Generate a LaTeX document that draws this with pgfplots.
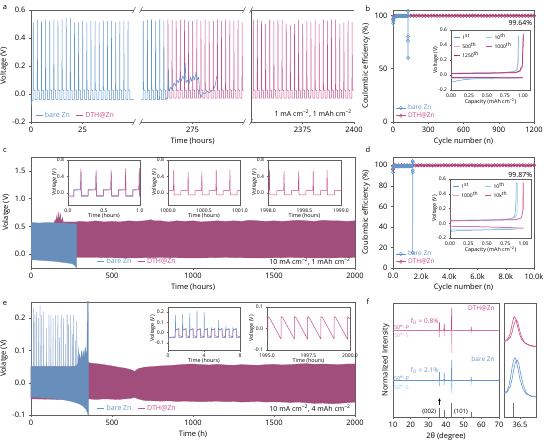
\documentclass[border=0pt]{standalone}
\usepackage{pgfplots}
\pgfplotsset{compat=1.18}
\usepackage{fontspec}
\setmainfont{Open Sans}

\definecolor{axgray}{RGB}{95,95,95}
\definecolor{zblue}{RGB}{98,150,205}
\definecolor{zbluelt}{RGB}{150,200,235}
\definecolor{zpink}{RGB}{200,80,140}
\definecolor{zpinklt}{RGB}{235,165,200}
\definecolor{zpinkdk}{RGB}{180,40,105}
\definecolor{cepink}{RGB}{172,62,118}
\definecolor{bandblue}{RGB}{104,142,188}
\definecolor{bandpink}{RGB}{162,78,124}
\definecolor{refgray}{RGB}{110,110,110}

\newcommand{\fs}[1]{\fontsize{#1}{#1}\selectfont}

\pgfplotsset{
  base/.style={
    scale only axis, anchor=north west,
    font=\fs{7.5},
    tick label style={font=\fs{7.5}},
    label style={font=\fs{7.5}},
    tick align=outside, major tick length=2pt, minor tick length=1.2pt,
    tick style={line width=0.4pt, color=axgray},
    axis line style={line width=0.5pt, color=axgray},
    xtick pos=lower, ytick pos=left,
    /pgf/number format/assume math mode=true,
    /pgf/number format/1000 sep={},
    xlabel style={yshift=2pt},
    ylabel style={yshift=-2pt},
    legend image code/.code={\draw[#1] (0pt,0pt) -- (7pt,0pt);},
  },
  inset/.style={base,
    tick label style={font=\fs{5}},
    label style={font=\fs{5.4}},
    xlabel style={yshift=4pt},
    ylabel style={yshift=-5pt},
    major tick length=1.5pt,
    axis background/.style={fill=white},
    xticklabel style={yshift=1pt}, yticklabel style={xshift=1pt},
  },
  dec1x/.style={xticklabel style={/pgf/number format/.cd,fixed,fixed zerofill,precision=1}},
  dec1y/.style={yticklabel style={/pgf/number format/.cd,fixed,fixed zerofill,precision=1}},
  dec2x/.style={xticklabel style={/pgf/number format/.cd,fixed,fixed zerofill,precision=2}},
  trace/.style={line width=0.5pt, line join=round},
  celegend/.style={legend style={draw=none, fill=none, at={(0.01,0.0)}, anchor=south west,
      font=\fs{6.5}, row sep=-2.5pt, inner sep=1pt},
    legend cell align=left,
    legend image code/.code={\draw[mark repeat=2,mark phase=2,##1] plot coordinates {(0pt,0pt)(5pt,0pt)(10pt,0pt)};}},
  capleg/.style={legend style={draw=none, fill=none, at={(0.02,0.99)}, anchor=north west,
      font=\fs{5}, legend columns=2, row sep=-2.5pt, inner sep=1pt,
      /tikz/every even column/.append style={column sep=5pt}},
    legend cell align=left,
    legend image code/.code={\draw[##1] (0pt,0pt) -- (6pt,0pt);}},
  lineleg/.style={legend style={draw=none, fill=none, at={(#1,0.0)}, anchor=south west,
      font=\fs{7}, legend columns=-1, inner sep=1pt,
      /tikz/every even column/.append style={column sep=4pt}}},
}

\begin{document}
\begin{tikzpicture}
\useasboundingbox (0,0) rectangle (546pt,439pt);

% ---------------- panel a : three time windows ----------------
\begin{axis}[base, at={(31pt,429pt)}, width=103pt, height=112pt,
  xmin=0, xmax=50, ymin=-0.2, ymax=0.6,
  axis x line*=box, axis y line*=left,
  xtick={0,25}, ytick={-0.2,0,0.2,0.4,0.6}, dec1y,
  ylabel={Voltage (V)}, lineleg=0.03]
\addlegendimage{zblue, line width=0.6pt}
\addlegendentry{\textcolor{zblue}{bare Zn}}
\addlegendimage{zpink, line width=0.6pt}
\addlegendentry{\textcolor{zpink}{DTH@Zn}}
\addplot[zblue, trace, forget plot] coordinates {
(0,0.00)(0.15,-0.08)(0.5,-0.05)
(1,-0.04)(1.1,0.51)(1.2,0.03)(2,0.025)(2.02,-0.04)
(3,-0.04)(3.1,0.53)(3.2,0.03)(4,0.025)(4.02,-0.04)
(5,-0.04)(5.1,0.52)(5.2,0.03)(6,0.025)(6.02,-0.04)
(7,-0.04)(7.1,0.53)(7.2,0.03)(8,0.025)(8.02,-0.04)
(9,-0.04)(9.1,0.52)(9.2,0.03)(10,0.025)(10.02,-0.04)
(11,-0.04)(11.1,0.53)(11.2,0.03)(12,0.025)(12.02,-0.04)
(13,-0.04)(13.1,0.52)(13.2,0.03)(14,0.025)(14.02,-0.04)
(15,-0.04)(15.1,0.53)(15.2,0.03)(16,0.025)(16.02,-0.04)
(17,-0.04)(17.1,0.54)(17.2,0.03)(18,0.025)(18.02,-0.04)
(19,-0.04)(19.1,0.54)(19.2,0.03)(20,0.025)(20.02,-0.04)
(21,-0.04)(21.1,0.51)(21.2,0.03)(22,0.025)(22.02,-0.04)
(23,-0.04)(23.1,0.51)(23.2,0.03)(24,0.025)(24.02,-0.04)
(25,-0.04)(25.1,0.52)(25.2,0.03)(26,0.025)(26.02,-0.04)
(27,-0.04)(27.1,0.51)(27.2,0.03)(28,0.025)(28.02,-0.04)
(29,-0.04)(29.1,0.52)(29.2,0.03)(30,0.025)(30.02,-0.04)
(31,-0.04)(31.1,0.52)(31.2,0.03)(32,0.025)(32.02,-0.04)
(33,-0.04)(33.1,0.51)(33.2,0.03)(34,0.025)(34.02,-0.04)
(35,-0.04)(35.1,0.52)(35.2,0.03)(36,0.025)(36.02,-0.04)
(37,-0.04)(37.1,0.52)(37.2,0.03)(38,0.025)(38.02,-0.04)
(39,-0.04)(39.1,0.52)(39.2,0.03)(40,0.025)(40.02,-0.04)
(41,-0.04)(41.1,0.51)(41.2,0.03)(42,0.025)(42.02,-0.04)
(43,-0.04)(43.1,0.52)(43.2,0.03)(44,0.025)(44.02,-0.04)
(45,-0.04)(45.1,0.52)(45.2,0.03)(46,0.025)(46.02,-0.04)
(47,-0.04)(47.1,0.52)(47.2,0.03)(48,0.025)(48.02,-0.04)
(50,-0.04)};
\end{axis}

\begin{axis}[base, at={(141pt,429pt)}, width=103pt, height=112pt,
  xmin=250, xmax=300, ymin=-0.2, ymax=0.6,
  axis x line*=box, axis y line=none, ytick=\empty,
  xtick={275}, xlabel={Time (hours)}]
\addplot[zpink, trace] coordinates {
(262,-0.03)
(263,-0.03)(263.1,0.53)(263.2,0.03)(264,0.025)(264.02,-0.03)
(265,-0.03)(265.1,0.53)(265.2,0.03)(266,0.025)(266.02,-0.03)
(267,-0.03)(267.1,0.52)(267.2,0.03)(268,0.025)(268.02,-0.03)
(269,-0.03)(269.1,0.53)(269.2,0.03)(270,0.025)(270.02,-0.03)
(271,-0.03)(271.1,0.53)(271.2,0.03)(272,0.025)(272.02,-0.03)
(273,-0.03)(273.1,0.52)(273.2,0.03)(274,0.025)(274.02,-0.03)
(275,-0.03)(275.1,0.52)(275.2,0.03)(276,0.025)(276.02,-0.03)
(277,-0.03)(277.1,0.53)(277.2,0.03)(278,0.025)(278.02,-0.03)
(279,-0.03)(279.1,0.52)(279.2,0.03)(280,0.025)(280.02,-0.03)
(281,-0.03)(281.1,0.53)(281.2,0.03)(282,0.025)(282.02,-0.03)
(283,-0.03)(283.1,0.52)(283.2,0.03)(284,0.025)(284.02,-0.03)
(285,-0.03)(285.1,0.52)(285.2,0.03)(286,0.025)(286.02,-0.03)
(287,-0.03)(287.1,0.53)(287.2,0.03)(288,0.025)(288.02,-0.03)
(289,-0.03)(289.1,0.52)(289.2,0.03)(290,0.025)(290.02,-0.03)
(291,-0.03)(291.1,0.53)(291.2,0.03)(292,0.025)(292.02,-0.03)
(293,-0.03)(293.1,0.52)(293.2,0.03)(294,0.025)(294.02,-0.03)
(295,-0.03)(295.1,0.52)(295.2,0.03)(296,0.025)(296.02,-0.03)
(297,-0.03)(297.1,0.53)(297.2,0.03)(298,0.025)(298.02,-0.03)
(299,-0.03)(299.1,0.51)(299.2,0.03)(300,0.025)};
\addplot[zblue, line width=0.6pt, line join=round] coordinates {
(250,-0.04)
(251,-0.04)(251.1,0.52)(251.2,0.03)(252,0.025)(252.02,-0.04)
(253,-0.04)(253.1,0.53)(253.2,0.03)(254,0.025)(254.02,-0.04)
(255,-0.04)(255.1,0.53)(255.2,0.03)(256,0.025)(256.02,-0.04)
(257,-0.04)(257.1,0.52)(257.2,0.03)(258,0.025)(258.02,-0.04)
(259,-0.04)(259.1,0.53)(259.2,0.03)(260,0.025)(260.02,-0.04)
(261,-0.04)(261.1,0.52)(261.2,0.03)(262,0.025)(262.02,-0.04)
(263,-0.03)(263.3,0.18)(263.6,0.02)(264.5,0.05)(265.2,0.03)(266,0.08)(266.8,0.06)
(267.5,0.1)(268.2,0.08)(269,0.12)(269.5,0.09)(270.3,0.13)(271,0.1)(271.5,0.22)
(271.8,0.08)(272.5,0.1)(273.3,0.07)(274,0.12)(274.6,0.09)(275.3,0.13)(276,0.1)
(276.8,0.16)(277.3,0.1)(278,0.12)(278.5,0.0)(279.3,-0.02)(280,0.01)(281,0.0)
(282,0.02)(283,0.01)(284,0.02)(285,0.03)(286,0.06)(286.8,0.13)};
\end{axis}

\begin{axis}[base, at={(251pt,429pt)}, width=103pt, height=112pt,
  xmin=2350, xmax=2400, ymin=-0.2, ymax=0.6,
  axis x line*=box, axis y line*=right, ytick=\empty,
  xtick={2375,2400}]
\addplot[zpink, trace] coordinates {
(2350,-0.03)
(2351,-0.03)(2351.1,0.53)(2351.2,0.03)(2352,0.025)(2352.02,-0.03)
(2353,-0.03)(2353.1,0.53)(2353.2,0.03)(2354,0.025)(2354.02,-0.03)
(2355,-0.03)(2355.1,0.52)(2355.2,0.03)(2356,0.025)(2356.02,-0.03)
(2357,-0.03)(2357.1,0.50)(2357.2,0.03)(2358,0.025)(2358.02,-0.03)
(2359,-0.03)(2359.1,0.53)(2359.2,0.03)(2360,0.025)(2360.02,-0.03)
(2361,-0.03)(2361.1,0.52)(2361.2,0.03)(2362,0.025)(2362.02,-0.03)
(2363,-0.03)(2363.1,0.53)(2363.2,0.03)(2364,0.025)(2364.02,-0.03)
(2365,-0.03)(2365.1,0.53)(2365.2,0.03)(2366,0.025)(2366.02,-0.03)
(2367,-0.03)(2367.1,0.50)(2367.2,0.03)(2368,0.025)(2368.02,-0.03)
(2369,-0.03)(2369.1,0.49)(2369.2,0.03)(2370,0.025)(2370.02,-0.03)
(2371,-0.03)(2371.1,0.50)(2371.2,0.03)(2372,0.025)(2372.02,-0.03)
(2373,-0.03)(2373.1,0.53)(2373.2,0.03)(2374,0.025)(2374.02,-0.03)
(2375,-0.03)(2375.1,0.50)(2375.2,0.03)(2376,0.025)(2376.02,-0.03)
(2377,-0.03)(2377.1,0.52)(2377.2,0.03)(2378,0.025)(2378.02,-0.03)
(2379,-0.03)(2379.1,0.51)(2379.2,0.03)(2380,0.025)(2380.02,-0.03)
(2381,-0.03)(2381.1,0.53)(2381.2,0.03)(2382,0.025)(2382.02,-0.03)
(2383,-0.03)(2383.1,0.50)(2383.2,0.03)(2384,0.025)(2384.02,-0.03)
(2385,-0.03)(2385.1,0.53)(2385.2,0.03)(2386,0.025)(2386.02,-0.03)
(2387,-0.03)(2387.1,0.52)(2387.2,0.03)(2388,0.025)(2388.02,-0.03)
(2389,-0.03)(2389.1,0.53)(2389.2,0.03)(2390,0.025)(2390.02,-0.03)
(2391,-0.03)(2391.1,0.53)(2391.2,0.03)(2392,0.025)(2392.02,-0.03)
(2393,-0.03)(2393.1,0.50)(2393.2,0.03)(2394,0.025)(2394.02,-0.03)
(2395,-0.03)(2395.1,0.51)(2395.2,0.03)(2396,0.025)(2396.02,-0.03)
(2397,-0.03)(2397.1,0.52)(2397.2,0.03)(2398,0.025)(2398.02,-0.03)
(2399,-0.03)(2399.1,0.51)(2399.2,0.03)(2400,0.025)};
\node[anchor=south east, font=\fs{7}, inner sep=1pt] at (rel axis cs:0.99,0.03)
  {1 mA cm\textsuperscript{−2}, 1 mAh cm\textsuperscript{−2}};
\end{axis}

% axis-break marks
\foreach \bx in {134,141,244,251}{
  \draw[axgray, line width=0.5pt] (\bx pt-1.5pt,426pt) -- (\bx pt+1.5pt,432pt);
  \draw[axgray, line width=0.5pt] (\bx pt-1.5pt,314pt) -- (\bx pt+1.5pt,320pt);
}

% ---------------- panel b ----------------
\begin{axis}[base, at={(393pt,429pt)}, width=141pt, height=112pt,
  xmin=0, xmax=1200, ymin=0, ymax=105,
  xtick={0,300,...,1200}, ytick={0,50,100},
  xlabel={Cycle number (n)}, ylabel={Coulombic efficiency (\%)}, celegend]
\addlegendimage{zblue, line width=0.5pt, mark=o, mark size=1.6pt}
\addlegendentry{\textcolor{zblue}{bare Zn}}
\addlegendimage{zpink, line width=0.5pt, mark=o, mark size=1.6pt}
\addlegendentry{\textcolor{zpink}{DTH@Zn}}
\addplot[cepink, line width=1.2pt, mark=o, mark size=1.7pt,
  mark options={line width=0.6pt}, forget plot] coordinates {
(1,96.5)(5,99.0)(10,99.4)(25,99.6)(50,99.7)(75,99.6)(100,99.7)(125,99.6)(150,99.6)
(175,99.7)(200,99.6)(225,99.7)(250,99.6)(275,99.6)(300,99.7)(325,99.6)(350,99.7)
(375,99.6)(400,99.6)(425,99.7)(450,99.6)(475,99.7)(500,99.6)(525,99.6)(550,99.7)
(575,99.6)(600,99.7)(625,99.6)(650,99.6)(675,99.7)(700,99.6)(725,99.7)(750,99.6)
(775,99.6)(800,99.7)(825,99.6)(850,99.7)(875,99.6)(900,99.6)(925,99.7)(950,99.6)
(975,99.7)(1000,99.6)(1025,99.6)(1050,99.7)(1075,99.6)(1100,99.7)(1125,99.6)
(1150,99.6)(1175,99.7)(1200,99.6)};
\addplot[zblue, line width=0.6pt, mark=o, mark size=1.6pt, forget plot] coordinates {
(1,92.5)(3,94.8)(5,96.5)(8,97.8)(12,98.6)(16,99.0)(20,99.2)(25,99.0)(30,99.3)
(35,99.1)(40,99.4)(45,99.2)(50,99.4)(55,99.3)(60,99.5)(65,99.2)(70,99.4)(75,99.5)
(80,99.3)(85,99.5)(90,99.4)(95,99.5)(100,99.3)(105,99.5)(110,99.4)(115,99.5)
(120,99.4)(125,99.5)(128,104)(128,60)(128,80)(128,76)(128,100)};
\node[anchor=east, font=\fs{7}, inner sep=1pt] at (axis cs:1195,93) {99.64\%};
\end{axis}

\begin{axis}[inset, at={(451pt,409pt)}, width=79pt, height=60pt,
  xmin=0, xmax=1.1, ymin=-0.2, ymax=0.6,
  xtick={0,0.25,0.5,0.75,1}, ytick={-0.2,0,0.2,0.4,0.6}, dec2x, dec1y,
  xlabel={Capacity (mAh cm\textsuperscript{−2})}, ylabel={Voltage (V)}, capleg]
\addplot[zblue, trace] coordinates {(0,0.02)(0.2,0.025)(0.4,0.028)(0.6,0.03)(0.75,0.035)(0.85,0.042)(0.9,0.055)(0.92,0.08)(0.93,0.15)(0.935,0.3)(0.94,0.52)};
\addlegendentry{1\textsuperscript{st}}
\addplot[zbluelt, trace] coordinates {(0,0.025)(0.3,0.03)(0.6,0.033)(0.8,0.038)(0.88,0.05)(0.92,0.07)(0.94,0.2)(0.945,0.5)};
\addlegendentry{10\textsuperscript{th}}
\addplot[zpinklt, trace] coordinates {(0,0.015)(0.5,0.02)(0.9,0.03)(0.97,0.05)(0.98,0.08)(0.99,0.09)(0.995,0.2)(1.0,0.5)};
\addlegendentry{500\textsuperscript{th}}
\addplot[zpink, trace] coordinates {(0,0.018)(0.5,0.022)(0.9,0.03)(0.96,0.05)(0.975,0.09)(0.99,0.1)(1.0,0.25)(1.005,0.52)};
\addlegendentry{1000\textsuperscript{th}}
\addplot[zpinkdk, trace] coordinates {(0,0.02)(0.5,0.025)(0.9,0.035)(0.96,0.06)(0.975,0.1)(0.99,0.11)(1.0,0.3)(1.01,0.55)};
\addlegendentry{1250\textsuperscript{th}}
\addplot[zblue, trace, forget plot] coordinates {(0,-0.1)(0.03,-0.09)(0.1,-0.075)(0.2,-0.06)(0.35,-0.05)(0.5,-0.045)(0.7,-0.042)(0.9,-0.04)(1.0,-0.04)};
\addplot[zbluelt, trace, forget plot] coordinates {(0,-0.05)(0.3,-0.045)(0.6,-0.043)(0.95,-0.042)};
\addplot[zpinklt, trace, forget plot] coordinates {(0,-0.03)(0.5,-0.03)(1.0,-0.032)};
\addplot[zpink, trace, forget plot] coordinates {(0,-0.032)(0.5,-0.033)(1.0,-0.035)};
\addplot[zpinkdk, trace, forget plot] coordinates {(0,-0.035)(0.5,-0.036)(1.0,-0.038)};
\end{axis}

% ---------------- panel c ----------------
\begin{axis}[base, at={(31pt,282pt)}, width=324pt, height=111pt,
  xmin=0, xmax=2000, ymin=-0.25, ymax=1.75,
  xtick={0,500,...,2000}, ytick={0,0.5,1,1.5}, dec1y,
  xlabel={Time (hours)}, ylabel={Volatge (V)}, lineleg=0.2]
\addlegendimage{zblue, line width=0.6pt}
\addlegendentry{\textcolor{zblue}{bare Zn}}
\addlegendimage{zpink, line width=0.6pt}
\addlegendentry{\textcolor{zpink}{DTH@Zn}}
\addplot[fill=bandpink, draw=bandpink, line width=0.3pt, forget plot] coordinates {
(0,0.55)(140,0.56)(150,0.62)(152,0.56)(160,0.7)(163,0.57)(172,0.76)(175,0.58)
(182,0.72)(185,0.58)(195,0.66)(198,0.58)(250,0.58)(280,0.58)(300,0.59)(350,0.58)
(400,0.6)(450,0.58)(500,0.59)(550,0.58)(600,0.6)(650,0.59)(700,0.6)(740,0.62)
(760,0.6)(800,0.6)(850,0.58)(900,0.6)(950,0.59)(1000,0.6)(1050,0.58)(1100,0.59)
(1150,0.6)(1200,0.59)(1250,0.6)(1300,0.59)(1350,0.61)(1400,0.6)(1450,0.59)
(1500,0.6)(1550,0.59)(1600,0.6)(1650,0.61)(1700,0.6)(1750,0.59)(1800,0.61)
(1850,0.6)(1900,0.6)(1950,0.59)(2000,0.6)
(2000,-0.06)(1800,-0.07)(1600,-0.06)(1400,-0.07)(1200,-0.06)(1000,-0.07)
(800,-0.06)(600,-0.07)(400,-0.06)(280,-0.06)(0,-0.06)} -- cycle;
\addplot[fill=bandblue, draw=bandblue, line width=0.3pt, forget plot] coordinates {
(0,0.57)(50,0.56)(100,0.57)(150,0.56)(200,0.56)(250,0.55)(280,0.55)
(280,-0.25)(275,-0.22)(265,-0.19)(250,-0.17)(200,-0.15)(150,-0.13)(100,-0.12)
(50,-0.11)(0,-0.10)} -- cycle;
\node[anchor=south east, font=\fs{7}, inner sep=1pt] at (rel axis cs:0.99,0.01)
  {10 mA cm\textsuperscript{−2}, 1 mAh cm\textsuperscript{−2}};
\end{axis}

\begin{axis}[inset, at={(68pt,279pt)}, width=72pt, height=45pt,
  xmin=0, xmax=1, ymin=-0.3, ymax=0.8,
  xtick={0,0.5,1}, ytick={0,0.4,0.8}, dec1x, dec1y,
  xlabel={Time (hours)}, ylabel={Voltage (V)}]
\addplot[zblue, trace] coordinates {
(0,-0.1)(0.08,-0.1)(0.08,0.08)(0.175,0.09)(0.18,0.5)(0.185,-0.09)(0.28,-0.09)
(0.28,0.08)(0.385,0.09)(0.39,0.5)(0.395,-0.09)(0.49,-0.09)(0.49,0.08)(0.595,0.09)
(0.60,0.5)(0.605,-0.09)(0.70,-0.09)(0.70,0.08)(0.795,0.09)(0.80,0.5)(0.805,-0.09)
(0.90,-0.09)(0.90,0.08)(0.985,0.09)(0.99,0.5)(0.995,-0.09)(1.0,-0.09)};
\addplot[zpink, trace] coordinates {
(0,-0.08)(0.08,-0.08)(0.08,0.06)(0.175,0.07)(0.18,0.58)(0.185,-0.07)(0.28,-0.07)
(0.28,0.06)(0.385,0.07)(0.39,0.55)(0.395,-0.07)(0.49,-0.07)(0.49,0.06)(0.595,0.07)
(0.60,0.55)(0.605,-0.07)(0.70,-0.07)(0.70,0.06)(0.795,0.07)(0.80,0.58)(0.805,-0.07)
(0.90,-0.07)(0.90,0.06)(0.985,0.07)(0.99,0.6)(0.995,-0.07)(1.0,-0.07)};
\end{axis}

\begin{axis}[inset, at={(168pt,279pt)}, width=72pt, height=45pt,
  xmin=1000, xmax=1001, ymin=-0.3, ymax=0.8,
  xtick={1000,1000.5,1001}, ytick={0,0.4,0.8}, dec1x, dec1y,
  xlabel={Time (hours)}, ylabel={Voltage (V)}]
\addplot[zpink, trace] coordinates {
(1000.0,0.05)(1000.075,0.06)(1000.08,0.55)(1000.085,-0.05)(1000.18,-0.05)
(1000.18,0.05)(1000.275,0.06)(1000.28,0.50)(1000.285,-0.05)(1000.375,-0.05)
(1000.375,0.05)(1000.465,0.06)(1000.47,0.52)(1000.475,-0.05)(1000.57,-0.05)
(1000.57,0.05)(1000.665,0.06)(1000.67,0.55)(1000.675,-0.05)(1000.765,-0.05)
(1000.765,0.05)(1000.855,0.06)(1000.86,0.55)(1000.865,-0.05)(1000.96,-0.05)
(1000.96,0.05)(1001.0,0.05)};
\end{axis}

\begin{axis}[inset, at={(268pt,279pt)}, width=73pt, height=45pt,
  xmin=1998, xmax=1999, ymin=-0.3, ymax=0.8,
  xtick={1998,1998.5,1999}, ytick={0,0.4,0.8}, dec1x, dec1y,
  xlabel={Time (hours)}, ylabel={Voltage (V)}]
\addplot[zpink, trace] coordinates {
(1998.0,0.05)(1998.015,0.06)(1998.02,0.55)(1998.025,-0.05)(1998.12,-0.05)
(1998.12,0.05)(1998.215,0.06)(1998.22,0.52)(1998.225,-0.05)(1998.32,-0.05)
(1998.32,0.05)(1998.415,0.06)(1998.42,0.52)(1998.425,-0.05)(1998.52,-0.05)
(1998.52,0.05)(1998.615,0.06)(1998.62,0.52)(1998.625,-0.05)(1998.72,-0.05)
(1998.72,0.05)(1998.805,0.06)(1998.81,0.55)(1998.815,-0.05)(1998.91,-0.05)
(1998.91,0.05)(1999.0,0.05)};
\end{axis}

% ---------------- panel d ----------------
\begin{axis}[base, at={(393pt,282pt)}, width=141pt, height=111pt,
  xmin=0, xmax=10000, ymin=0, ymax=108,
  xtick={0,2000,...,10000}, xticklabels={0.0,2.0k,4.0k,6.0k,8.0k,10.0k},
  ytick={0,20,...,100}, scaled x ticks=false,
  xlabel={Cycle number (n)}, ylabel={Coulombic efficiency (\%)}, celegend]
\addlegendimage{zblue, line width=0.5pt, mark=o, mark size=1.6pt}
\addlegendentry{\textcolor{zblue}{bare Zn}}
\addlegendimage{zpink, line width=0.5pt, mark=o, mark size=1.6pt}
\addlegendentry{\textcolor{zpink}{DTH@Zn}}
\addplot[cepink, line width=1.2pt, mark=o, mark size=1.7pt,
  mark options={line width=0.6pt}, forget plot] coordinates {
(1,96)(20,99.2)(100,99.8)(200,99.9)(400,99.8)(600,99.9)(800,99.9)(1000,99.8)
(1200,99.9)(1400,99.9)(1600,99.8)(1800,99.9)(2000,99.9)(2200,99.8)(2400,99.9)
(2600,99.9)(2800,99.8)(3000,99.9)(3200,99.9)(3400,99.8)(3600,99.9)(3800,99.9)
(4000,99.8)(4200,99.9)(4400,99.9)(4600,99.8)(4800,99.9)(5000,99.9)(5200,99.8)
(5400,99.9)(5600,99.9)(5800,99.8)(6000,99.9)(6200,99.9)(6400,99.8)(6600,99.9)
(6800,99.9)(7000,99.8)(7200,99.9)(7400,99.9)(7600,99.8)(7800,99.9)(8000,99.9)
(8200,99.8)(8400,99.9)(8600,99.9)(8800,99.8)(9000,99.9)(9200,99.9)(9400,99.8)
(9600,99.9)(9800,99.9)(10000,99.9)};
\addplot[zblue, line width=0.6pt, mark=o, mark size=1.6pt, forget plot] coordinates {
(1,93)(10,97)(30,98.6)(50,99.1)(100,98.8)(150,99.3)(200,98.9)(250,99.4)(300,99.0)
(350,99.3)(400,98.7)(450,99.2)(500,99.0)(550,99.4)(600,98.9)(650,99.2)(700,99.0)
(750,99.3)(800,98.8)(850,99.2)(900,99.0)(950,99.4)(1000,99.1)(1050,99.3)(1100,98.9)
(1150,99.2)(1200,99.0)(1250,99.3)(1300,99.1)(1350,99.4)(1390,104)(1395,15)
(1400,93)(1405,95)(1410,100)(1415,103)};
\node[anchor=east, font=\fs{7}, inner sep=1pt] at (axis cs:9950,90) {99.87\%};
\end{axis}

\begin{axis}[inset, at={(450pt,260pt)}, width=81pt, height=59pt,
  xmin=0, xmax=1.1, ymin=-0.2, ymax=0.6,
  xtick={0,0.25,0.5,0.75,1}, ytick={-0.2,0,0.2,0.4,0.6}, dec2x, dec1y,
  xlabel={Capacity (mAh cm\textsuperscript{−2})}, ylabel={Voltage (V)}, capleg]
\addplot[zblue, trace] coordinates {(0,0.03)(0.2,0.035)(0.5,0.04)(0.7,0.048)(0.8,0.058)(0.85,0.07)(0.88,0.1)(0.895,0.25)(0.9,0.55)};
\addlegendentry{1\textsuperscript{st}}
\addplot[zbluelt, trace] coordinates {(0,0.04)(0.3,0.045)(0.6,0.05)(0.8,0.06)(0.88,0.08)(0.91,0.12)(0.92,0.55)};
\addlegendentry{10\textsuperscript{th}}
\addplot[zpinklt, trace] coordinates {(0,0.03)(0.5,0.035)(0.9,0.045)(0.97,0.07)(0.985,0.15)(0.99,0.55)};
\addlegendentry{1000\textsuperscript{th}}
\addplot[zpink, trace] coordinates {(0,0.035)(0.5,0.042)(0.9,0.052)(0.97,0.075)(0.995,0.2)(1.0,0.55)};
\addlegendentry{10k\textsuperscript{th}}
\addplot[zblue, trace, forget plot] coordinates {(0,-0.05)(0.02,-0.11)(0.1,-0.1)(0.3,-0.095)(0.5,-0.09)(0.7,-0.085)(0.9,-0.08)};
\addplot[zbluelt, trace, forget plot] coordinates {(0,-0.08)(0.3,-0.08)(0.6,-0.078)(0.92,-0.075)};
\addplot[zpinklt, trace, forget plot] coordinates {(0,-0.04)(0.5,-0.05)(1.0,-0.065)};
\addplot[zpink, trace, forget plot] coordinates {(0,0.2)(0.005,-0.04)(0.3,-0.045)(0.7,-0.055)(1.0,-0.068)};
\end{axis}

% ---------------- panel e ----------------
\begin{axis}[base, at={(31pt,137pt)}, width=324pt, height=113pt,
  xmin=0, xmax=2000, ymin=-0.1, ymax=0.25,
  xtick={0,500,...,2000}, ytick={-0.1,0,0.1,0.2}, dec1y,
  xlabel={Time (h)}, ylabel={Volatge (V)}, lineleg=0.2]
\addlegendimage{zblue, line width=0.6pt}
\addlegendentry{\textcolor{zblue}{bare Zn}}
\addlegendimage{zpink, line width=0.6pt}
\addlegendentry{\textcolor{zpink}{DTH@Zn}}
\addplot[fill=bandpink, draw=bandpink, line width=0.3pt, forget plot] coordinates {
(0,0.05)(100,0.05)(200,0.05)(300,0.05)(355,0.062)(380,0.06)(420,0.058)(460,0.055)
(500,0.052)(540,0.048)(580,0.045)(620,0.04)(640,0.035)(660,0.043)(700,0.048)
(750,0.05)(800,0.052)(850,0.053)(900,0.055)(950,0.057)(1000,0.058)(1050,0.056)
(1100,0.055)(1150,0.057)(1200,0.055)(1250,0.054)(1300,0.056)(1350,0.055)
(1400,0.054)(1450,0.056)(1500,0.057)(1550,0.055)(1600,0.056)(1650,0.058)
(1700,0.059)(1750,0.057)(1800,0.058)(1850,0.057)(1900,0.056)(1950,0.058)(2000,0.058)
(2000,-0.06)(1950,-0.062)(1900,-0.064)(1850,-0.065)(1800,-0.063)(1750,-0.064)
(1700,-0.062)(1650,-0.06)(1600,-0.061)(1550,-0.06)(1500,-0.059)(1450,-0.06)
(1400,-0.058)(1350,-0.059)(1300,-0.06)(1250,-0.058)(1200,-0.059)(1150,-0.057)
(1100,-0.058)(1050,-0.059)(1000,-0.058)(950,-0.057)(900,-0.058)(850,-0.056)
(800,-0.057)(750,-0.056)(700,-0.055)(660,-0.05)(640,-0.045)(620,-0.048)(580,-0.05)
(540,-0.052)(500,-0.051)(450,-0.05)(400,-0.052)(355,-0.05)(300,-0.052)(200,-0.052)
(100,-0.051)(0,-0.05)} -- cycle;
\addplot[fill=bandblue, draw=bandblue, line width=0.25pt, line join=round, forget plot] coordinates {
(0,0.05)
(3.5,0.05)(4,0.22)(4.5,0.05)(13.5,0.05)(14,0.23)(14.5,0.05)(23.5,0.05)(24,0.21)(24.5,0.05)
(33.5,0.05)(34,0.22)(34.5,0.05)(44.5,0.05)(45,0.2)(45.5,0.05)(55.5,0.05)(56,0.24)(56.5,0.05)
(66.5,0.05)(67,0.21)(67.5,0.05)(78.5,0.05)(79,0.22)(79.5,0.05)(95.5,0.05)(96,0.17)(96.5,0.05)
(110.5,0.05)(111,0.21)(111.5,0.05)(122.5,0.05)(123,0.21)(123.5,0.05)(135.5,0.05)(136,0.2)(136.5,0.05)
(150.5,0.05)(151,0.21)(151.5,0.05)(165.5,0.05)(166,0.21)(166.5,0.05)(175.5,0.05)(176,0.14)(176.5,0.05)
(185.5,0.05)(186,0.21)(186.5,0.05)(198.5,0.05)(199,0.2)(199.5,0.05)(210.5,0.05)(211,0.12)(211.5,0.05)
(222.5,0.05)(223,0.21)(223.5,0.05)(232.5,0.05)(233,0.18)(233.5,0.05)(245.5,0.05)(246,0.21)(246.5,0.05)
(255.5,0.05)(256,0.15)(256.5,0.05)(263.5,0.05)(264,0.21)(264.5,0.05)(272.5,0.05)(273,0.13)(273.5,0.05)
(282.5,0.055)(283,0.19)(283.5,0.055)(290,0.06)(292,0.11)(294,0.06)(300,0.09)(305,0.065)
(312,0.1)(316,0.07)(322,0.1)(328,0.08)(335,0.11)(340,0.09)(345,0.1)
(349,0.26)(353,0.26)(355,0.06)
(355,-0.11)(350,-0.095)(340,-0.082)(320,-0.072)(300,-0.066)(250,-0.058)
(200,-0.053)(150,-0.05)(100,-0.048)(50,-0.046)(0,-0.045)} -- cycle;
\node[anchor=south east, font=\fs{7}, inner sep=1pt] at (rel axis cs:0.99,0.01)
  {10 mA cm\textsuperscript{−2}, 4 mAh cm\textsuperscript{−2}};
\end{axis}

\begin{axis}[inset, at={(168pt,132pt)}, width=72pt, height=43pt,
  xmin=0, xmax=8, ymin=-0.17, ymax=0.25,
  xtick={0,4,8}, ytick={-0.1,0,0.1,0.2}, dec1y,
  xlabel={Time (hours)}, ylabel={Voltage (V)}]
\addplot[zpink, trace] coordinates {
(0,-0.1)(0.05,-0.05)(0.8,-0.04)
(0.8,0.02)(1.2,0.04)(1.2,-0.03)(1.6,-0.04)(1.6,0.02)(2.0,0.04)(2.0,-0.03)(2.4,-0.04)
(2.4,0.02)(2.8,0.04)(2.8,-0.03)(3.2,-0.04)(3.2,0.02)(3.6,0.04)(3.6,-0.03)(4.0,-0.04)
(4.0,0.02)(4.4,0.04)(4.4,-0.03)(4.8,-0.04)(4.8,0.02)(5.2,0.04)(5.2,-0.03)(5.6,-0.04)
(5.6,0.02)(6.0,0.04)(6.0,-0.03)(6.4,-0.04)(6.4,0.02)(6.8,0.04)(6.8,-0.03)(7.2,-0.04)
(7.2,0.02)(7.6,0.04)(7.6,-0.03)(8.0,-0.04)};
\addplot[zblue, trace] coordinates {
(0,-0.09)(0.05,-0.05)(0.8,-0.05)
(0.8,-0.05)(0.82,0.17)(0.85,0.03)(1.2,0.035)(1.2,-0.05)(1.6,-0.05)
(1.62,0.18)(1.65,0.03)(2.0,0.035)(2.0,-0.05)(2.4,-0.05)
(2.42,0.19)(2.45,0.03)(2.8,0.035)(2.8,-0.05)(3.2,-0.05)
(3.22,0.21)(3.25,0.03)(3.6,0.035)(3.6,-0.05)(4.0,-0.05)
(4.02,0.2)(4.05,0.03)(4.4,0.035)(4.4,-0.05)(4.8,-0.05)
(4.82,0.05)(4.85,0.03)(5.2,0.035)(5.2,-0.05)(5.6,-0.05)
(5.62,0.12)(5.65,0.03)(6.0,0.035)(6.0,-0.05)(6.4,-0.05)
(6.42,0.06)(6.45,0.03)(6.8,0.035)(6.8,-0.05)(7.2,-0.05)
(7.22,0.05)(7.25,0.03)(7.6,0.035)(7.6,-0.05)(8.0,-0.05)};
\end{axis}

\begin{axis}[inset, at={(267pt,132pt)}, width=83pt, height=43pt,
  xmin=1995, xmax=2000, ymin=-0.1, ymax=0.1,
  xtick={1995,1997.5,2000}, ytick={-0.1,0,0.1}, dec1x, dec1y,
  xlabel={Time (hours)}, ylabel={Voltage (V)}]
\addplot[zpink, trace] coordinates {
(1995.0,-0.045)(1995.05,-0.05)(1995.05,0.055)(1995.15,0.05)(1995.85,-0.05)
(1995.85,0.055)(1995.95,0.05)(1996.65,-0.05)(1996.65,0.055)(1996.75,0.05)
(1997.45,-0.05)(1997.45,0.055)(1997.55,0.05)(1998.25,-0.05)(1998.25,0.055)
(1998.35,0.05)(1999.05,-0.05)(1999.05,0.055)(1999.15,0.05)(1999.85,-0.05)
(1999.85,0.055)(1999.95,0.05)(2000,0.045)};
\end{axis}

% ---------------- panel f ----------------
\begin{axis}[base, at={(393pt,136pt)}, width=106pt, height=114pt,
  xmin=10, xmax=70, ymin=0, ymax=100,
  xtick={10,20,...,70}, ytick=\empty,
  xlabel={2θ (degree)}, ylabel={Normalized Intensity}]
\addplot[zpinklt, line width=0.6pt] coordinates {
(10,76)(36.15,76)(36.3,70)(36.45,76)(38.85,76)(39.0,71)(39.15,76)(43.05,76)
(43.2,56)(43.35,76)(54.15,76)(54.3,73.5)(54.45,76)(70,76)};
\addplot[zpink, line width=0.6pt] coordinates {
(10,76)(36.15,76)(36.3,83)(36.45,76)(38.85,76)(39.0,82)(39.15,76)(43.05,76)
(43.2,96)(43.35,76)(54.15,76)(54.3,79)(54.45,76)(70,76)};
\addplot[zbluelt, line width=0.6pt] coordinates {
(10,32)(36.15,32)(36.3,27)(36.45,32)(38.85,32)(39.0,28)(39.15,32)(43.05,32)
(43.2,21)(43.35,32)(54.15,32)(54.3,30)(54.45,32)(70,32)};
\addplot[zblue, line width=0.6pt] coordinates {
(10,32)(36.15,32)(36.3,39.5)(36.45,32)(38.85,32)(39.0,38.5)(39.15,32)(43.05,32)
(43.2,50)(43.35,32)(54.15,32)(54.3,35)(54.45,32)(70,32)};
\addplot[ycomb, refgray, line width=0.6pt] coordinates {(36.3,8)(39.0,6)(43.2,12)(54.3,4)};
\draw[->, >=stealth, black, line width=0.35pt] (axis cs:36.3,10.5) -- (axis cs:36.3,16.5);
\node[font=\fs{6.5}, text=zpink, anchor=east] at (axis cs:69.5,95) {DTH@Zn};
\node[font=\fs{6.5}, text=zblue, anchor=east] at (axis cs:69.5,51) {bare Zn};
\node[font=\fs{6.5}, text=zpink] at (axis cs:28,84) {f\textsubscript{D} = 0.8\%};
\node[font=\fs{6.5}, text=zblue] at (axis cs:28,41) {f\textsubscript{D} = 2.1\%};
\node[font=\fs{5.3}, text=zpink, anchor=west, inner sep=0.5pt] at (axis cs:10.2,78.5) {50\textsuperscript{th}-P};
\node[font=\fs{5.3}, text=zpinklt, anchor=west, inner sep=0.5pt] at (axis cs:10.2,72) {50\textsuperscript{th}-S};
\node[font=\fs{5.3}, text=zblue, anchor=west, inner sep=0.5pt] at (axis cs:10.2,34.5) {50\textsuperscript{th}-P};
\node[font=\fs{5.3}, text=zbluelt, anchor=west, inner sep=0.5pt] at (axis cs:10.2,26.5) {50\textsuperscript{th}-S};
\node[font=\fs{6}, inner sep=0.5pt] at (axis cs:30.5,4.5) {(002)};
\node[font=\fs{6}, inner sep=0.5pt] at (axis cs:48.5,4.5) {(101)};
\end{axis}

\begin{axis}[base, at={(504pt,136pt)}, width=32pt, height=114pt,
  xmin=36.0, xmax=37.0, ymin=0, ymax=100,
  xtick={36.5}, ytick=\empty, dec1x]
\addplot[zpink, line width=0.6pt] coordinates {
(36.0,67)(36.1,68)(36.15,70)(36.2,74)(36.25,81)(36.3,87)(36.33,88)(36.37,86)
(36.42,80)(36.48,73)(36.55,68)(36.65,65)(36.8,63)(37.0,62)};
\addplot[zpink, line width=0.6pt] coordinates {
(36.0,66)(36.1,67)(36.2,70)(36.25,74)(36.3,80)(36.35,84)(36.39,85)(36.43,83)
(36.48,77)(36.55,70)(36.65,65)(36.8,62.5)(37.0,61.5)};
\addplot[zblue, line width=0.6pt] coordinates {
(36.0,21)(36.1,23)(36.15,27)(36.2,34)(36.25,43)(36.3,50)(36.34,52)(36.38,50)
(36.44,42)(36.5,33)(36.6,24)(36.7,20)(36.85,18.5)(37.0,18)};
\addplot[zblue, line width=0.6pt] coordinates {
(36.0,20)(36.1,22)(36.2,27)(36.25,33)(36.3,41)(36.36,48)(36.41,50)(36.46,47)
(36.52,38)(36.6,28)(36.7,21)(36.85,18)(37.0,17.5)};
\addplot[ycomb, refgray, line width=0.6pt] coordinates {(36.3,12)};
\end{axis}

% panel letters
\begin{scope}[every node/.style={font=\fs{7.5}}]
\node at (5pt,431pt) {a};
\node at (368pt,430pt) {b};
\node at (5pt,289pt) {c};
\node at (368pt,289pt) {d};
\node at (5pt,136pt) {e};
\node at (368pt,137pt) {f};
\end{scope}
\end{tikzpicture}
\end{document}
